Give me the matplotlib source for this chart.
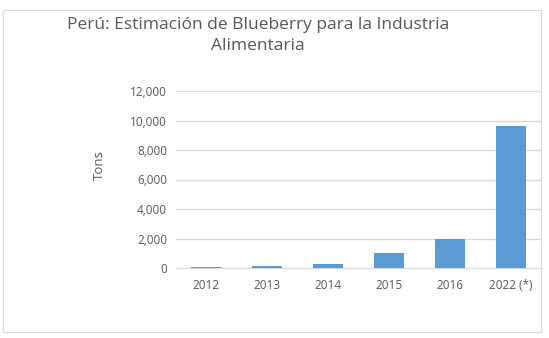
import matplotlib.pyplot as plt
from matplotlib.patches import Rectangle

years = ["2012", "2013", "2014", "2015", "2016", "2022 (*)"]
tons = [40, 130, 270, 1030, 2000, 9620]
y_ticks = [0, 2000, 4000, 6000, 8000, 10000, 12000]

plt.rcParams['font.family'] = ['Open Sans', 'DejaVu Sans']
txt = '#595959'

fig = plt.figure(figsize=(5.49, 3.38), dpi=100)
W, H = 549, 338
ax = fig.add_axes([175.5 / W, 1 - 268 / H, 366 / W, 177 / H])

ax.bar(range(len(years)), tons, width=0.49, color='#5b9bd5', zorder=3)
ax.set_xlim(-0.5, len(years) - 0.5)
ax.set_ylim(0, 12000)
ax.set_yticks(y_ticks)
ax.set_yticklabels([f"{v:,}" for v in y_ticks])
ax.set_xticks(range(len(years)))
ax.set_xticklabels(years)
ax.grid(axis='y', color='#d9d9d9', linewidth=1, zorder=0)
for s in ['top', 'right', 'left']:
    ax.spines[s].set_visible(False)
ax.spines['bottom'].set_color('#d9d9d9')
ax.tick_params(length=0, labelsize=8.5, colors=txt)
ax.tick_params(axis='x', pad=8)
ax.tick_params(axis='y', pad=6)
ax.set_ylabel("Tons", fontsize=9.5, color=txt)
ax.yaxis.set_label_coords(-70 / 366, 0.58)

fig.text(258 / W, 1 - 35.5 / H, "Perú: Estimación de Blueberry para la Industria\nAlimentaria",
         ha='center', va='center', multialignment='center', fontsize=12.5,
         color=txt, linespacing=1.35)

fig.patches.append(Rectangle((3 / W, 1 - 332 / H), 538 / W, 322 / H, transform=fig.transFigure,
                             fill=False, edgecolor='#d9d9d9', linewidth=0.8))

fig.savefig("out.png", dpi=100)
